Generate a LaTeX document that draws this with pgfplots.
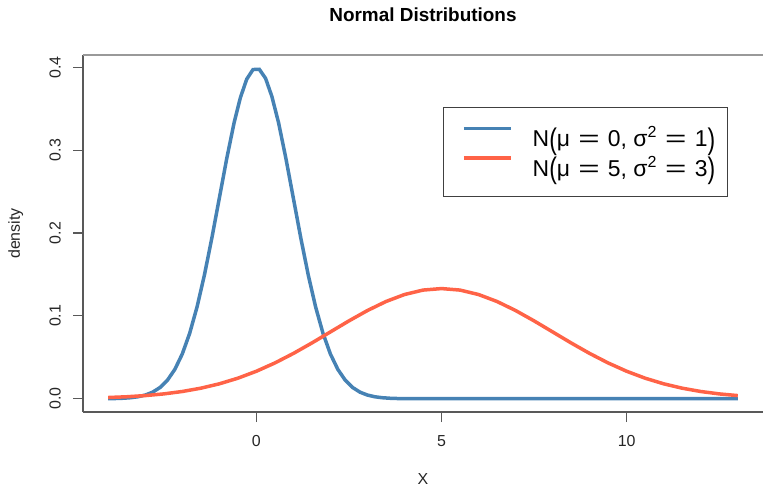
\documentclass[border=0pt]{standalone}
\usepackage{fontspec}
\setmainfont{Liberation Sans}
\usepackage{graphicx}
\usepackage{pgfplots}
\pgfplotsset{compat=1.18}
\definecolor{steelblue}{RGB}{70,130,180}
\definecolor{tomato}{RGB}{255,99,71}
\newcommand{\bigp}[1]{\raisebox{-0.12em}{\scalebox{1}[1.3]{#1}}}
\newcommand{\eq}{ \hspace{0.08em}\scalebox{1.6}[1]{=}\hspace{0.08em} }
\newcommand{\legtext}[1]{\makebox[\dimexpr\width-7bp\relax][l]{#1}}
\begin{document}
\begin{tikzpicture}
\begin{axis}[
  name=ax,
  scale only axis,
  width=680bp, height=357bp,
  xmin=-4.68, xmax=13.68,
  ymin=-0.016, ymax=0.4149,
  axis x line=bottom, axis y line=left,
  axis line style={-, draw=black!65, line width=1.2bp},
  tick align=outside,
  major tick length=10bp,
  tick style={draw=black!65, line width=1.2bp},
  xtick={0,5,10},
  ytick={0,0.1,0.2,0.3,0.4},
  /pgf/number format/assume math mode=true,
  yticklabel style={/pgf/number format/.cd, fixed, fixed zerofill, precision=1, /tikz/.cd,
    rotate=90, anchor=south, inner sep=0pt, yshift=12bp, font=\fontsize{16}{19}\selectfont, text=black!85},
  xticklabel style={anchor=base, inner sep=0pt, yshift=-24bp, font=\fontsize{16}{19}\selectfont, text=black!85},
  title={Normal Distributions},
  title style={font=\bfseries\fontsize{19}{22}\selectfont, at={(0.5,1)}, anchor=base, yshift=27.2bp, inner sep=0pt},
  xlabel={X},
  xlabel style={at={(axis description cs:0.5,0)}, anchor=base, yshift=-72bp, inner sep=0pt, font=\fontsize{16}{19}\selectfont, text=black!85},
  ylabel={density},
  ylabel style={at={(axis description cs:0,0.5)}, anchor=base, yshift=63bp, inner sep=0pt, font=\fontsize{16}{19}\selectfont, text=black!85},
  legend style={at={(axis description cs:0.529,0.854)}, anchor=north west,
    draw=black!75, line width=1bp, inner xsep=19bp, inner ysep=19bp, row sep=9bp,
    font=\fontsize{23}{27}\selectfont,
    nodes={inner sep=0pt, text height=19bp, text depth=1bp}},
  legend cell align=left,
  legend image code/.code={\draw[#1] (0bp,9bp) -- (47bp,9bp); \path (67bp,9bp);},
]
\addplot[steelblue, line width=3.5bp] coordinates {
(-4.0,0.00013) (-3.8,0.00029) (-3.6,0.00061) (-3.4,0.00123) (-3.2,0.00238)
(-3.0,0.00443) (-2.8,0.00792) (-2.6,0.01358) (-2.4,0.02239) (-2.2,0.03547)
(-2.0,0.05399) (-1.8,0.07895) (-1.6,0.11092) (-1.4,0.14973) (-1.2,0.19419)
(-1.0,0.24197) (-0.8,0.28969) (-0.6,0.33322) (-0.43,0.36348) (-0.26,0.38568)
(-0.09,0.39733) (0.08,0.39767) (0.25,0.38667) (0.42,0.36480) (0.6,0.33322) (0.8,0.28969)
(1.0,0.24197) (1.2,0.19419) (1.4,0.14973) (1.6,0.11092) (1.8,0.07895)
(2.0,0.05399) (2.2,0.03547) (2.4,0.02239) (2.6,0.01358) (2.8,0.00792)
(3.0,0.00443) (3.2,0.00238) (3.4,0.00123) (3.6,0.00061) (3.8,0.00029)
(4.0,0.00013) (4.5,0.00002) (5,0) (6,0) (7,0) (8,0) (9,0) (10,0) (11,0) (12,0) (13,0)
};
\addlegendentry{\legtext{N\bigp{(}μ\eq 0, σ\textsuperscript{2}\eq 1\bigp{)}}}
\addplot[tomato, line width=3.5bp] coordinates {
(-4.0,0.00148) (-3.5,0.00240) (-3.0,0.00380) (-2.5,0.00584) (-2.0,0.00874)
(-1.5,0.01272) (-1.0,0.01800) (-0.5,0.02477) (0.0,0.03316) (0.5,0.04317)
(1.0,0.05467) (1.5,0.06733) (2.0,0.08066) (2.5,0.09397) (3.0,0.10648)
(3.5,0.11736) (4.0,0.12579) (4.5,0.13115) (5.0,0.13298) (5.5,0.13115)
(6.0,0.12579) (6.5,0.11736) (7.0,0.10648) (7.5,0.09397) (8.0,0.08066)
(8.5,0.06733) (9.0,0.05467) (9.5,0.04317) (10.0,0.03316) (10.5,0.02477)
(11.0,0.01800) (11.5,0.01272) (12.0,0.00874) (12.5,0.00584) (13.0,0.00380)
};
\addlegendentry{\legtext{N\bigp{(}μ\eq 5, σ\textsuperscript{2}\eq 3\bigp{)}}}
\draw[black!40, line width=1.5bp] (rel axis cs:0,1) -- (rel axis cs:1,1);
\end{axis}
\pgfresetboundingbox
\path[use as bounding box] ([shift={(-83bp,-74bp)}]ax.south west) rectangle ([shift={(0bp,55bp)}]ax.north east);
\end{tikzpicture}
\end{document}
